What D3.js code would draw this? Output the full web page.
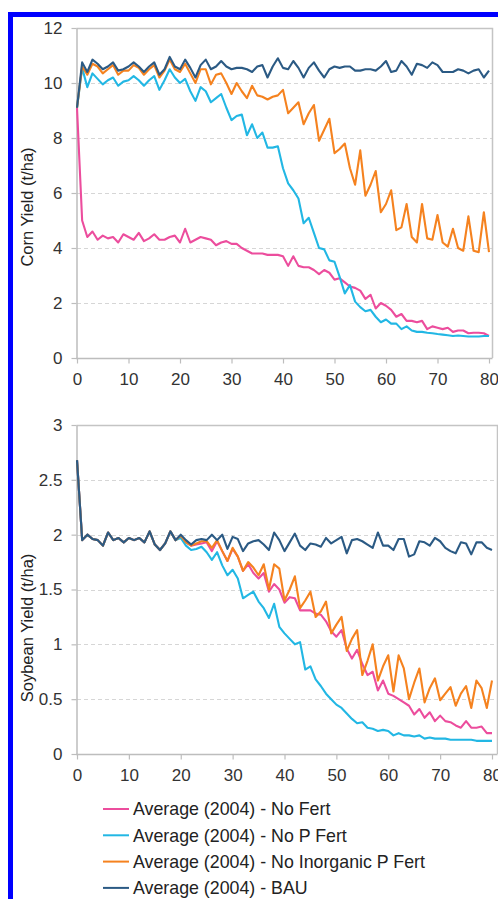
<!DOCTYPE html>
<html><head><meta charset="utf-8">
<script src="https://cdn.jsdelivr.net/npm/d3@7"></script>
<style>html,body{margin:0;padding:0;background:#fff;overflow:hidden}</style>
</head><body>
<svg id="chart" width="498" height="899"></svg>
<script>
const years = d3.range(0, 81);
const xTicks = [0, 10, 20, 30, 40, 50, 60, 70, 80];
const cornYTicks = [0, 2, 4, 6, 8, 10, 12];
const soyYTicks = [0, 0.5, 1, 1.5, 2, 2.5, 3];
const seriesNames = ["Average (2004) - No Fert", "Average (2004) - No P Fert", "Average (2004) - No Inorganic P Fert", "Average (2004) - BAU"];
const seriesColors = ["#ec4d9d", "#22b7e4", "#f5821f", "#2b5a84"];

const cornNoFert = [9.1,5.0,4.4,4.6,4.3,4.45,4.35,4.4,4.2,4.5,
4.4,4.3,4.55,4.25,4.35,4.5,4.3,4.3,4.4,4.45,
4.2,4.7,4.2,4.3,4.4,4.35,4.3,4.1,4.2,4.25,
4.15,4.15,4.0,3.9,3.8,3.8,3.8,3.75,3.75,3.75,
3.7,3.35,3.7,3.35,3.3,3.3,3.2,3.05,3.2,3.1,
2.85,2.9,2.75,2.6,2.55,2.45,2.15,2.3,1.8,2.0,
1.9,1.75,1.5,1.6,1.35,1.35,1.3,1.35,1.05,1.15,
1.1,1.05,1.1,0.95,1.0,1.0,0.9,0.92,0.92,0.9,
0.8];
const cornNoPFert = [9.1,10.55,9.85,10.35,10.15,9.95,10.1,10.2,9.9,10.05,
10.1,10.25,10.1,9.9,10.1,10.25,9.75,10.1,10.5,10.2,
10.0,10.15,9.7,9.35,9.85,9.7,9.3,9.45,9.6,9.1,
8.65,8.8,8.85,8.1,8.5,8.0,8.2,7.65,7.65,7.7,
6.9,6.35,6.1,5.8,4.9,5.1,4.55,4.0,3.95,3.55,
3.5,2.95,2.35,2.65,2.05,1.85,1.7,1.75,1.5,1.3,
1.4,1.25,1.25,1.05,1.15,1.0,0.95,0.95,0.92,0.9,
0.87,0.85,0.83,0.8,0.82,0.8,0.78,0.78,0.78,0.8,
0.8];
const cornNoInorgPFert = [9.1,10.6,10.3,10.7,10.6,10.35,10.5,10.65,10.3,10.45,
10.45,10.65,10.55,10.3,10.5,10.65,10.2,10.45,10.85,10.5,
10.4,10.7,10.35,10.0,10.5,10.5,9.95,10.3,10.35,10.0,
9.6,10.0,9.7,9.45,9.9,9.55,9.5,9.4,9.5,9.55,
9.75,8.9,9.1,9.3,8.5,8.9,9.2,7.9,8.3,8.7,
7.45,7.6,7.8,6.9,6.3,7.55,5.9,6.3,6.8,5.3,
5.6,6.1,4.65,4.75,5.6,4.4,4.2,5.6,4.35,4.3,
5.2,4.2,4.05,4.7,4.0,3.9,5.15,3.9,3.85,5.3,
3.85];
const cornBAU = [9.1,10.75,10.4,10.85,10.7,10.5,10.6,10.75,10.45,10.5,
10.6,10.75,10.6,10.4,10.6,10.75,10.3,10.5,10.95,10.6,
10.5,10.85,10.55,10.2,10.65,10.85,10.5,10.6,10.8,10.6,
10.5,10.55,10.55,10.5,10.4,10.6,10.65,10.2,10.6,10.9,
10.55,10.5,10.8,10.55,10.2,10.55,10.75,10.45,10.2,10.5,
10.6,10.55,10.6,10.6,10.45,10.45,10.5,10.5,10.45,10.6,
10.8,10.4,10.45,10.8,10.6,10.3,10.7,10.65,10.55,10.75,
10.65,10.4,10.4,10.4,10.5,10.45,10.35,10.45,10.5,10.2,
10.45];

const soyNoFert = [2.68,1.95,2.0,1.96,1.95,1.9,2.02,1.95,1.97,1.93,
1.97,1.95,1.97,1.93,2.03,1.91,1.86,1.92,2.03,1.95,
1.99,1.93,1.9,1.91,1.92,1.93,1.85,1.94,1.85,1.76,
1.87,1.8,1.67,1.73,1.65,1.6,1.65,1.48,1.55,1.5,
1.38,1.43,1.42,1.31,1.31,1.31,1.28,1.27,1.21,1.12,
1.07,1.13,0.96,0.87,0.95,0.82,0.72,0.75,0.58,0.67,
0.55,0.53,0.5,0.47,0.44,0.36,0.41,0.33,0.38,0.3,
0.35,0.3,0.29,0.26,0.24,0.3,0.24,0.24,0.25,0.19,
0.19];
const soyNoPFert = [2.68,1.95,2.0,1.96,1.95,1.9,2.02,1.95,1.97,1.93,
1.97,1.95,1.97,1.93,2.03,1.91,1.86,1.92,2.03,1.95,
1.97,1.9,1.86,1.87,1.89,1.84,1.77,1.84,1.72,1.63,
1.68,1.6,1.42,1.45,1.48,1.39,1.33,1.24,1.37,1.16,
1.1,1.05,1.0,1.02,0.77,0.8,0.68,0.62,0.55,0.5,
0.45,0.42,0.37,0.32,0.28,0.29,0.24,0.23,0.21,0.22,
0.21,0.17,0.19,0.17,0.17,0.16,0.17,0.14,0.15,0.14,
0.14,0.14,0.13,0.13,0.13,0.13,0.13,0.12,0.12,0.12,
0.12];
const soyNoInorgPFert = [2.68,1.95,2.0,1.96,1.95,1.9,2.02,1.95,1.97,1.93,
1.97,1.95,1.97,1.93,2.03,1.91,1.86,1.92,2.03,1.95,
1.99,1.93,1.9,1.92,1.94,1.94,1.88,1.95,1.85,1.76,
1.88,1.8,1.67,1.75,1.7,1.63,1.73,1.5,1.73,1.69,
1.4,1.5,1.62,1.33,1.4,1.48,1.25,1.3,1.39,1.1,
1.18,1.25,0.94,1.05,1.13,0.72,0.85,1.0,0.67,0.8,
0.9,0.57,0.9,0.78,0.5,0.65,0.78,0.47,0.6,0.69,
0.49,0.55,0.61,0.44,0.55,0.62,0.42,0.67,0.6,0.42,
0.67];
const soyBAU = [2.68,1.95,2.0,1.96,1.95,1.9,2.02,1.95,1.97,1.93,
1.97,1.95,1.97,1.93,2.03,1.91,1.86,1.92,2.03,1.95,
2.0,1.95,1.91,1.95,1.96,1.95,2.0,1.95,2.0,1.87,
1.98,1.96,1.85,1.92,1.94,1.95,1.91,1.86,2.02,1.95,
1.85,1.93,2.01,1.9,1.86,1.92,1.91,1.89,1.97,1.92,
1.95,1.98,1.83,1.95,1.96,1.94,1.91,1.88,2.02,1.9,
1.9,1.86,1.96,1.96,1.8,1.82,1.94,1.93,1.9,1.97,
1.94,1.88,1.85,1.83,1.93,1.92,1.82,1.93,1.93,1.88,
1.86];

const FONT = "'Liberation Sans', Arial, sans-serif";
const svg = d3.select("#chart");

// blue outer frame
svg.append("rect").attr("x", 10.5).attr("y", 14.5).attr("width", 700).attr("height", 1200)
  .attr("fill", "none").attr("stroke", "#0000ff").attr("stroke-width", 5);

function panel(cfg) {
  const x = d3.scaleLinear().domain([0, 80]).range([cfg.x0, cfg.x1]);
  const y = d3.scaleLinear().domain([0, cfg.yMax]).range([cfg.yBottom, cfg.yTop]);
  const g = svg.append("g");

  // gridlines
  g.selectAll("line.grid").data(cfg.yTicks.filter(d => d > 0 && d < cfg.yMax)).enter()
    .append("line").attr("class", "grid")
    .attr("x1", cfg.x0).attr("x2", cfg.frameRight)
    .attr("y1", d => Math.round(y(d)) + 0.5).attr("y2", d => Math.round(y(d)) + 0.5)
    .attr("stroke", "#d6d6d6").attr("stroke-width", 1).attr("stroke-dasharray", "4,3");

  // frame (top and right)
  g.append("path")
    .attr("d", `M${cfg.x0 - 0.5},${cfg.yTop + 0.5}H${cfg.frameRight + 0.5}V${cfg.yBottom}`)
    .attr("fill", "none").attr("stroke", "#c4c4c4").attr("stroke-width", 1.5);

  // axes
  const yAxis = d3.axisLeft(y).tickValues(cfg.yTicks).tickSize(5).tickSizeOuter(0).tickPadding(9)
    .tickFormat(d3.format("~g"));
  const ga = g.append("g").attr("transform", `translate(${cfg.x0 - 0.5},0)`).call(yAxis);
  const xAxis = d3.axisBottom(x).tickValues(xTicks).tickSize(5).tickSizeOuter(0).tickPadding(9);
  const gb = g.append("g").attr("transform", `translate(0,${cfg.yBottom + 0.5})`).call(xAxis);
  gb.select(".domain").attr("d", `M${cfg.x0 - 1},0H${cfg.frameRight + 0.5}`);
  [ga, gb].forEach(a => {
    a.select(".domain").attr("stroke", "#bdbdbd").attr("stroke-width", 1.5);
    a.selectAll(".tick line").attr("stroke", "#bdbdbd").attr("stroke-width", 1.2);
    a.selectAll(".tick text").attr("fill", "#333").style("font-family", FONT).style("font-size", "17px");
  });

  // axis title
  svg.append("text")
    .attr("transform", `translate(${cfg.titleX},${cfg.titleY}) rotate(-90)`)
    .attr("text-anchor", "middle").attr("fill", "#222")
    .style("font-family", FONT).style("font-size", "16.5px")
    .text(cfg.title);

  // lines
  const line = d3.line().x((d, i) => x(years[i])).y(d => y(d)).curve(d3.curveLinear);
  cfg.series.forEach((s, i) => {
    g.append("path").datum(s).attr("d", line)
      .attr("fill", "none").attr("stroke", seriesColors[i]).attr("stroke-width", 2.1)
      .attr("stroke-linejoin", "round");
  });
}

panel({
  x0: 77, x1: 489, frameRight: 492, yTop: 28, yBottom: 358, yMax: 12,
  yTicks: cornYTicks, title: "Corn Yield (t/ha)", titleX: 33, titleY: 207,
  series: [cornNoFert, cornNoPFert, cornNoInorgPFert, cornBAU]
});
panel({
  x0: 77, x1: 492, frameRight: 497, yTop: 425, yBottom: 754, yMax: 3,
  yTicks: soyYTicks, title: "Soybean Yield (t/ha)", titleX: 33, titleY: 628,
  series: [soyNoFert, soyNoPFert, soyNoInorgPFert, soyBAU]
});

// legend
const legendTop = 809, legendStep = 26.3;
const lg = svg.append("g");
seriesNames.forEach((name, i) => {
  const yy = legendTop + i * legendStep;
  lg.append("line").attr("x1", 103).attr("x2", 129).attr("y1", yy).attr("y2", yy)
    .attr("stroke", seriesColors[i]).attr("stroke-width", 2);
  lg.append("text").attr("x", 133).attr("y", yy).attr("dy", "0.36em")
    .attr("fill", "#222").style("font-family", FONT).style("font-size", "17.8px").text(name);
});
</script>
</body></html>
